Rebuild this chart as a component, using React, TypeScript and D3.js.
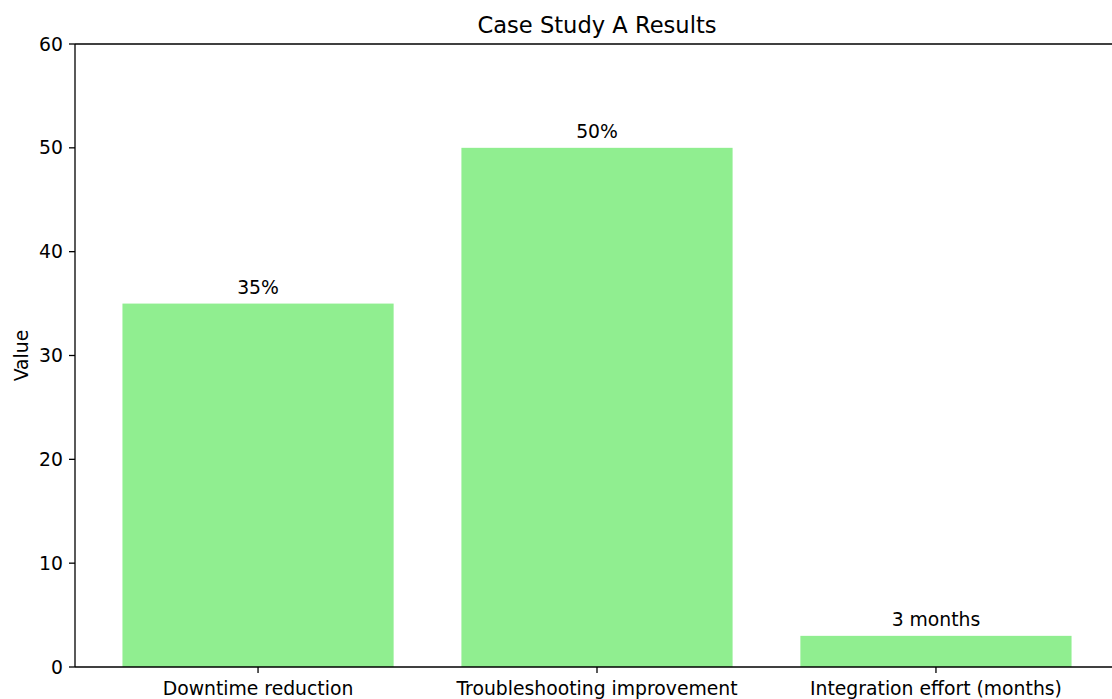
import React from "react";
import * as d3 from "d3";

// Bar chart data
const categories = ["Downtime reduction", "Troubleshooting improvement", "Integration effort (months)"];
const values = [35, 50, 3];
const valueLabels = ["35%", "50%", "3 months"];
const yTicks = [0, 10, 20, 30, 40, 50, 60];

const W = 1112;
const H = 699;
const FONT = "'DejaVu Sans', sans-serif";
const TICK_FS = 18.8;
const TITLE_FS = 22.6;

export default function App() {
  const left = 75;
  const right = 1119;
  const top = 44;
  const bottom = 667;
  const barWidth = 0.8;

  const x = d3.scaleLinear().domain([-0.54, 2.54]).range([left, right]);
  const y = d3.scaleLinear().domain([0, 60]).range([bottom, top]);

  const axisColor = "#000";
  const spineW = 1.3;

  return (
    <svg
      width={W}
      height={H}
      style={{ position: "absolute", left: 0, top: 0, background: "#fff" }}
      fontFamily={FONT}
    >
      {/* bars */}
      {values.map((v, i) => (
        <rect
          key={categories[i]}
          x={x(i - barWidth / 2)}
          y={y(v)}
          width={x(i + barWidth / 2) - x(i - barWidth / 2)}
          height={y(0) - y(v)}
          fill="#90EE90"
        />
      ))}
      {/* value labels */}
      {values.map((v, i) => (
        <text
          key={"lbl" + i}
          x={x(i)}
          y={y(v) - 10}
          textAnchor="middle"
          fontSize={TICK_FS}
          fill="#000"
        >
          {valueLabels[i]}
        </text>
      ))}
      {/* spines */}
      <line x1={left} x2={left} y1={top} y2={bottom} stroke={axisColor} strokeWidth={spineW} />
      <line x1={left} x2={right} y1={bottom} y2={bottom} stroke={axisColor} strokeWidth={spineW} />
      <line x1={left} x2={right} y1={top} y2={top} stroke={axisColor} strokeWidth={spineW} />
      <line x1={right} x2={right} y1={top} y2={bottom} stroke={axisColor} strokeWidth={spineW} />
      {/* y ticks */}
      {yTicks.map((t) => (
        <g key={"yt" + t}>
          <line x1={left - 6} x2={left} y1={y(t)} y2={y(t)} stroke={axisColor} strokeWidth={spineW} />
          <text
            x={left - 12}
            y={y(t)}
            textAnchor="end"
            dominantBaseline="central"
            fontSize={TICK_FS}
            fill="#000"
          >
            {t}
          </text>
        </g>
      ))}
      {/* x ticks */}
      {categories.map((c, i) => (
        <g key={"xt" + i}>
          <line x1={x(i)} x2={x(i)} y1={bottom} y2={bottom + 6} stroke={axisColor} strokeWidth={spineW} />
          <text x={x(i)} y={bottom + 28} textAnchor="middle" fontSize={TICK_FS} fill="#000">
            {c}
          </text>
        </g>
      ))}
      {/* y axis label */}
      <text
        transform={`translate(28, ${(top + bottom) / 2}) rotate(-90)`}
        textAnchor="middle"
        fontSize={TICK_FS}
        fill="#000"
      >
        Value
      </text>
      {/* title */}
      <text x={(left + right) / 2} y={top - 11} textAnchor="middle" fontSize={TITLE_FS} fill="#000">
        Case Study A Results
      </text>
    </svg>
  );
}
